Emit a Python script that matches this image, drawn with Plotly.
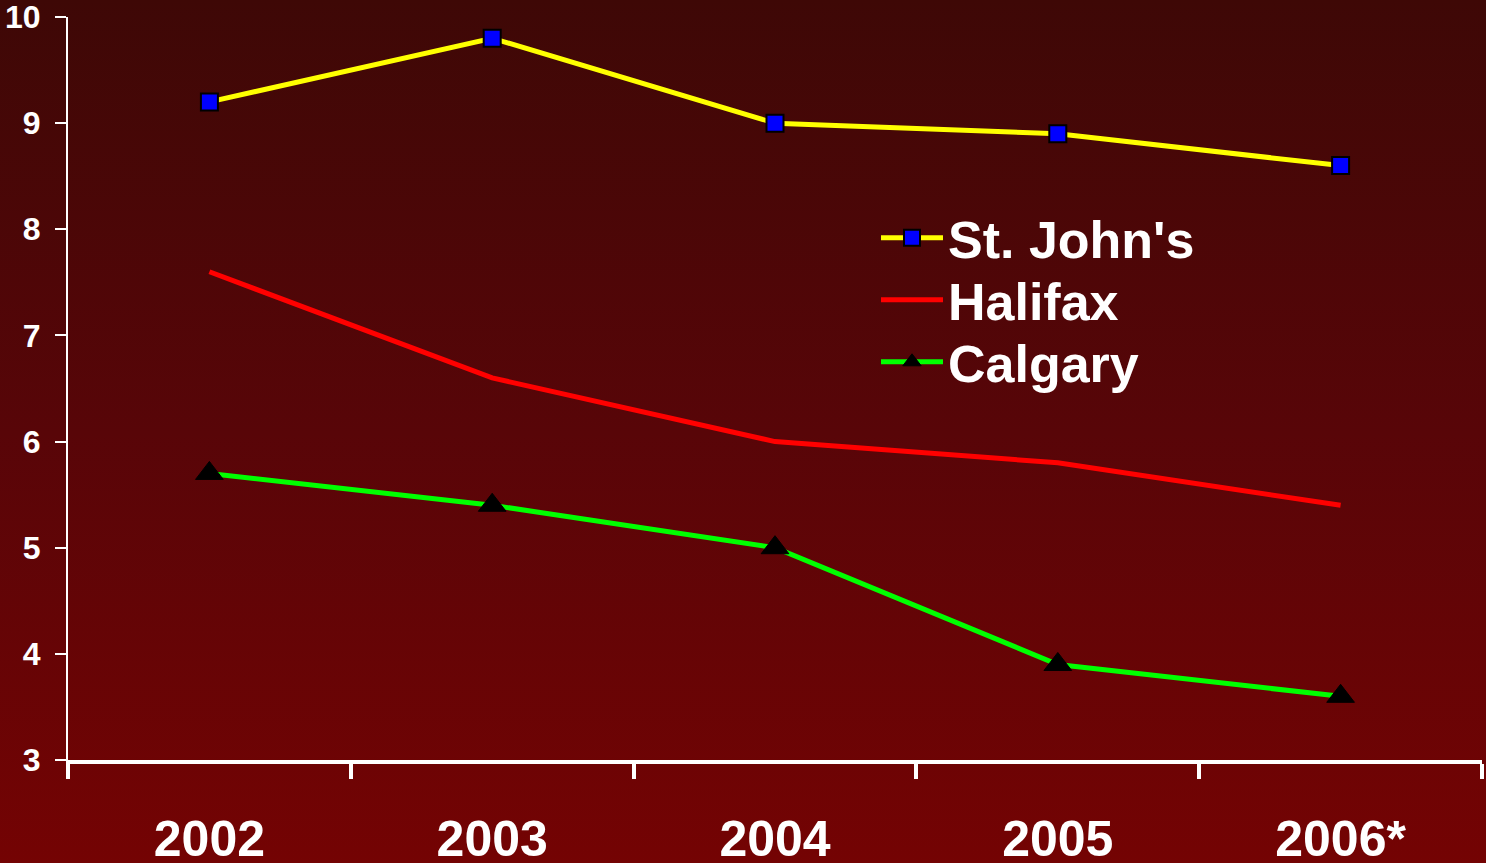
import base64
import plotly.graph_objects as go

years = ["2002", "2003", "2004", "2005", "2006*"]
st_johns = [9.2, 9.8, 9.0, 8.9, 8.6]
halifax = [7.6, 6.6, 6.0, 5.8, 5.4]
calgary = [5.7, 5.4, 5.0, 3.9, 3.6]

W, H = 1486, 863
ml, mr, mt, mb = 68, 4, 17, 103
pw, ph = W - ml - mr, H - mt - mb

svg = (
    '<svg xmlns="http://www.w3.org/2000/svg" width="100" height="100" preserveAspectRatio="none">'
    '<defs><linearGradient id="g" x1="0" y1="0" x2="0" y2="1">'
    '<stop offset="0" stop-color="#3e0806"/>'
    '<stop offset="0.5" stop-color="#580508"/>'
    '<stop offset="1" stop-color="#740303"/>'
    '</linearGradient></defs>'
    '<rect width="100" height="100" fill="url(#g)"/></svg>'
)
src = "data:image/svg+xml;base64," + base64.b64encode(svg.encode()).decode()

font_family = "Liberation Sans, Arial, sans-serif"

fig = go.Figure()
fig.add_trace(go.Scatter(
    x=years, y=st_johns, name="St. John's", mode="lines+markers", legend="legend",
    line=dict(color="#ffff00", width=5),
    marker=dict(symbol="square", size=17, color="#0000ff", line=dict(color="black", width=2)),
))
fig.add_trace(go.Scatter(
    x=years, y=halifax, name="Halifax", mode="lines", legend="legend2",
    line=dict(color="#ff0000", width=5),
))
fig.add_trace(go.Scatter(
    x=years, y=calgary, name="Calgary", mode="lines+markers", legend="legend3",
    line=dict(color="#00ff00", width=5),
    marker=dict(symbol="triangle-up", size=24, color="black", line=dict(color="black", width=1)),
))


def leg(ypix):
    return dict(
        x=(876 - ml) / pw, y=((mt + ph) - ypix) / ph,
        xanchor="left", yanchor="middle",
        bgcolor="rgba(0,0,0,0)",
        font=dict(size=52, color="white", family=font_family, weight="bold"),
        itemwidth=62,
    )


fig.update_layout(
    width=W, height=H,
    margin=dict(l=ml, r=mr, t=mt, b=mb, autoexpand=False),
    paper_bgcolor="#6a0404",
    plot_bgcolor="rgba(0,0,0,0)",
    font=dict(family=font_family, color="white", weight="bold"),
    images=[dict(
        source=src, xref="paper", yref="paper",
        x=-ml / pw, y=1 + mt / ph, sizex=W / pw, sizey=H / ph,
        xanchor="left", yanchor="top", sizing="stretch", layer="below",
    )],
    legend=leg(238),
    legend2=leg(300),
    legend3=leg(362),
    showlegend=True,
    xaxis=dict(
        type="category", range=[-0.5, 4.5], automargin=False,
        showgrid=False, zeroline=False,
        showline=True, linecolor="white", linewidth=4,
        ticks="outside", tickson="boundaries", ticklen=15, tickwidth=4, tickcolor="white",
        tickfont=dict(size=50, color="white", family=font_family, weight="bold"),
        ticklabelstandoff=32,
        ticklabeloverflow="allow",
    ),
    yaxis=dict(
        range=[3, 10], dtick=1, automargin=False,
        showgrid=False, zeroline=False,
        showline=True, linecolor="white", linewidth=2,
        ticks="outside", ticklen=11, tickwidth=1.5, tickcolor="white",
        tickfont=dict(size=32, color="white", family=font_family, weight="bold"),
        ticklabelstandoff=8,
        ticklabeloverflow="allow",
    ),
)

fig.write_html(
    "out.html",
    config={"displayModeBar": False},
    post_script="document.body.style.margin='0';document.body.style.overflow='hidden';",
)
